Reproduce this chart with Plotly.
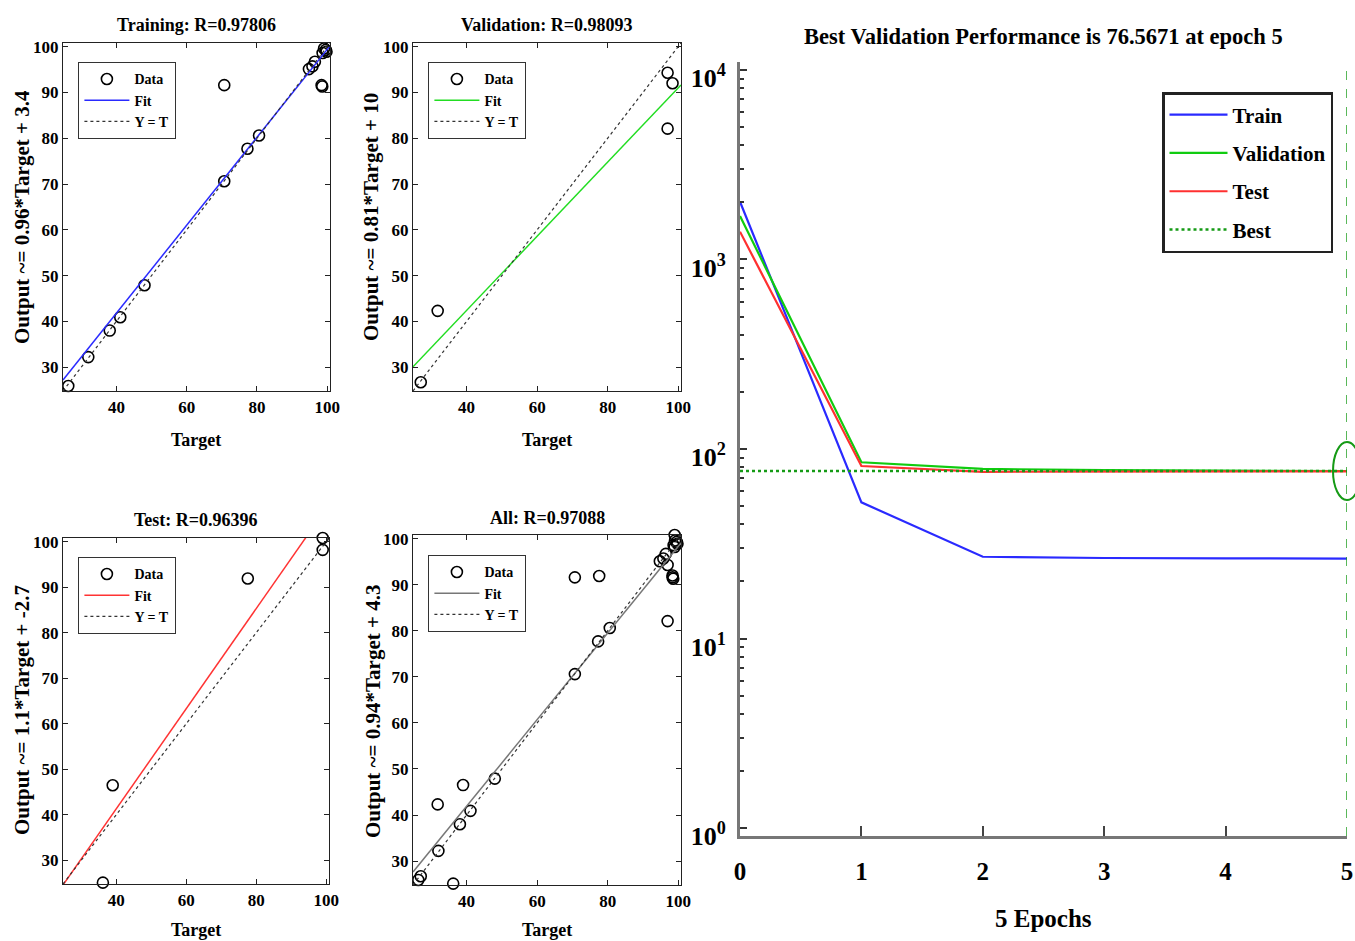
import plotly.graph_objects as go

W, H = 1355, 941
FONT = "Liberation Serif, Times New Roman, serif"

# ---- regression data (Target, Output) per subset ----
train_target = [26.3, 32.0, 38.1, 41.1, 48.0, 70.7, 70.7, 77.3, 80.6, 94.8, 95.8, 96.5, 98.4, 98.6, 98.7, 99.1, 99.6, 99.8]
train_output = [25.9, 32.2, 38.0, 40.9, 47.9, 70.6, 91.6, 77.7, 80.6, 95.1, 95.7, 96.7, 91.6, 91.3, 98.6, 99.6, 99.3, 98.9]

val_target = [27.0, 31.8, 97.0, 98.4, 97.0]
val_output = [26.7, 42.3, 94.3, 92.0, 82.1]

test_target = [36.2, 39.0, 77.6, 99.0, 99.0]
test_output = [25.1, 46.5, 91.9, 100.8, 98.2]

all_target = train_target + val_target + test_target
all_output = train_output + val_output + test_output

panel_titles = ["Training: R=0.97806", "Validation: R=0.98093", "Test: R=0.96396", "All: R=0.97088"]
fit_slope = [0.96, 0.81, 1.1, 0.94]
fit_intercept = [3.4, 10, -2.7, 4.3]
fit_labels = ["Output ~= 0.96*Target + 3.4", "Output ~= 0.81*Target + 10",
              "Output ~= 1.1*Target + -2.7", "Output ~= 0.94*Target + 4.3"]
fit_colors = ["#2a2aff", "#22dd22", "#ff3333", "#777777"]
reg_ticks_x = [40, 60, 80, 100]
reg_ticks_y = [30, 40, 50, 60, 70, 80, 90, 100]
reg_range = [24.8, 100.8]

# ---- training performance (MSE) per epoch ----
epochs = [0, 1, 2, 3, 4, 5]
perf_train = [2018, 52.3, 27.0, 26.6, 26.5, 26.4]
perf_val = [1698, 85.1, 78.5, 77.3, 76.9, 76.5671]
perf_test = [1402, 81.3, 75.8, 76.0, 76.1, 76.2]
best_epoch = 5
best_perf = 76.5671
perf_decades = [0, 1, 2, 3, 4]


def px_x(v):
    return v / W


def px_y(v):
    return 1 - v / H


fig = go.Figure()

# panel frames in pixels: (left, right, top, bottom)
frames = [(63, 330, 43, 391), (413, 681, 43, 391), (63, 329, 538, 884), (413, 681, 535, 885)]
legend_pos = [(78, 62), (428, 62), (78, 557), (428, 555)]
datasets = [(train_target, train_output), (val_target, val_output),
            (test_target, test_output), (all_target, all_output)]

axis_font = dict(family=FONT, size=17, color="black", weight="bold")

for i, ((t, o), (l, r, tp, bt)) in enumerate(zip(datasets, frames)):
    n = i + 1
    xa = "x" if n == 1 else f"x{n}"
    ya = "y" if n == 1 else f"y{n}"
    lg = "legend" if n == 1 else f"legend{n}"
    fig.add_trace(go.Scatter(
        x=t, y=o, mode="markers", name="Data", xaxis=xa, yaxis=ya, legend=lg,
        marker=dict(symbol="circle-open", size=11, color="black", line=dict(width=1.6, color="black")),
        cliponaxis=False))
    xs = [reg_range[0], reg_range[1]]
    fig.add_trace(go.Scatter(
        x=xs, y=[fit_slope[i] * v + fit_intercept[i] for v in xs], mode="lines", name="Fit",
        xaxis=xa, yaxis=ya, legend=lg, line=dict(color=fit_colors[i], width=1.5)))
    fig.add_trace(go.Scatter(
        x=xs, y=xs, mode="lines", name="Y = T", xaxis=xa, yaxis=ya, legend=lg,
        line=dict(color="#333333", width=1.2, dash="dot")))

    common = dict(range=reg_range, showgrid=False, zeroline=False, showline=True,
                  linecolor="#222222", linewidth=1.4, mirror="ticks", ticks="inside",
                  ticklen=5, tickcolor="#222222", tickfont=axis_font)
    fig.update_layout(**{
        ("xaxis" if n == 1 else f"xaxis{n}"): dict(domain=[px_x(l), px_x(r)], anchor=ya,
                                                   tickvals=reg_ticks_x, **common),
        ("yaxis" if n == 1 else f"yaxis{n}"): dict(domain=[px_y(bt), px_y(tp)], anchor=xa,
                                                   tickvals=reg_ticks_y, **common),
        lg: dict(x=px_x(legend_pos[i][0]), y=px_y(legend_pos[i][1]), xanchor="left", yanchor="top",
                 bgcolor="white", bordercolor="#333333", borderwidth=1.4, itemwidth=45,
                 font=dict(family=FONT, size=14, color="black", weight="bold"),
                 tracegroupgap=0),
    })

# ---- performance panel ----
perf_series = [("Train", perf_train, "#2a2aff"), ("Validation", perf_val, "#10cc10"), ("Test", perf_test, "#ff3030")]
for name, vals, col in perf_series:
    fig.add_trace(go.Scatter(x=epochs, y=vals, mode="lines", name=name, xaxis="x5", yaxis="y5",
                             legend="legend5", legendgroup=name, line=dict(color=col, width=2.2)))

fig.add_trace(go.Scatter(x=[epochs[0], epochs[-1]], y=[best_perf, best_perf], mode="lines", name="Best",
                         xaxis="x5", yaxis="y5", legend="legend5", legendgroup="Best",
                         line=dict(color="#159a15", width=2.6, dash="dot")))
fig.add_trace(go.Scatter(x=[best_epoch, best_epoch], y=[10 ** -0.042, 10 ** 4.042], mode="lines",
                         xaxis="x5", yaxis="y5", showlegend=False, cliponaxis=False,
                         line=dict(color="#159a15", width=1.4, dash="dash")))

# ring around the best-epoch point (symmetric in log space vertically)
ring_half_decades = 0.153
fig.add_shape(type="circle", xref="x5 domain", yref="y5", xsizemode="pixel",
              xanchor=1, x0=-14, x1=14,
              y0=best_perf * 10 ** -ring_half_decades, y1=best_perf * 10 ** ring_half_decades,
              line=dict(color="#159a15", width=2), layer="above")

minor_vals = [m * 10 ** d for d in perf_decades[:-1] for m in range(2, 10)]

fig.update_layout(
    xaxis5=dict(domain=[px_x(740), px_x(1347)], anchor="y5", range=[0, 5], tickvals=epochs,
                showgrid=False, zeroline=False, showline=True, linecolor="#777777", linewidth=3,
                ticks="inside", ticklen=10, tickwidth=2, tickcolor="#444444", ticklabelstandoff=11,
                tickfont=dict(family=FONT, size=25, color="black", weight="bold")),
    yaxis5=dict(domain=[px_y(836), px_y(62)], anchor="x5", type="log", range=[-0.042, 4.042],
                tickvals=[10 ** d for d in perf_decades],
                ticktext=[f"10<sup>{d}</sup>" for d in perf_decades],
                showgrid=False, zeroline=False, showline=True,
                linecolor="#777777", linewidth=3, ticks="inside", ticklen=7, tickwidth=2,
                tickcolor="#333333", ticklabelstandoff=6, ticklabelshift=8,
                minor=dict(tickvals=minor_vals, ticks="inside", ticklen=4, tickwidth=1.5,
                           tickcolor="#333333", showgrid=False),
                tickfont=dict(family=FONT, size=26, color="black", weight="bold")),
    legend5=dict(x=px_x(1162), y=px_y(92), xanchor="left", yanchor="top", bgcolor="white",
                 bordercolor="#222222", borderwidth=2.5, itemwidth=58, tracegroupgap=8,
                 font=dict(family=FONT, size=21, color="black", weight="bold")),
)


def ann(text, x, y, size, angle=0):
    fig.add_annotation(text=text, x=px_x(x), y=px_y(y), xref="paper", yref="paper",
                       xanchor="center", yanchor="middle", showarrow=False, textangle=angle,
                       font=dict(family=FONT, size=size, color="black", weight="bold"))


title_pos = [(196, 25), (547, 25), (196, 520), (547, 518)]
target_pos = [(196, 440), (547, 440), (196, 930), (547, 930)]
ylabel_pos = [(22, 217), (371, 217), (22, 710), (373, 712)]
for i in range(4):
    ann(panel_titles[i], *title_pos[i], 18)
    ann("Target", *target_pos[i], 18)
    ann(fit_labels[i], *ylabel_pos[i], 21, -90)

ann("Best Validation Performance is 76.5671 at epoch 5", 1043, 36, 22.5)
ann("5 Epochs", 1043, 918, 25)

fig.update_layout(width=W, height=H, margin=dict(l=0, r=0, t=0, b=0, pad=0, autoexpand=False),
                  plot_bgcolor="white", paper_bgcolor="white")

fig.write_html("out.html")
